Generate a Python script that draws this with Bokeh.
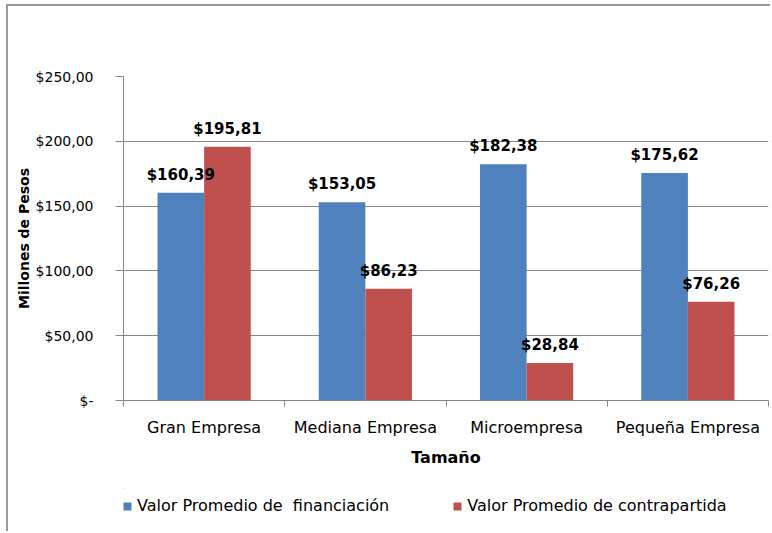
from bokeh.plotting import figure
from bokeh.layouts import column
from bokeh.core.properties import value
from bokeh.models import (ColumnDataSource, Range1d, LinearAxis, BoxAnnotation,
                          FixedTicker, CustomJSTickFormatter, LabelSet, Legend, LegendItem)
from bokeh.transform import dodge
from bokeh.embed import file_html
from bokeh.resources import INLINE

categories = ["Gran Empresa", "Mediana Empresa", "Microempresa", "Pequeña Empresa"]
financiacion = [160.39, 153.05, 182.38, 175.62]
contrapartida = [195.81, 86.23, 28.84, 76.26]
y_ticks = [0, 50, 100, 150, 200, 250]
series_names = ["Valor Promedio de  financiación", "Valor Promedio de contrapartida"]
x_title = "Tamaño"
y_title = "Millones de Pesos"

BLUE = "#4F81BD"
RED = "#C0504D"
GREY = "#868686"
FONT = "DejaVu Sans"


def fmt(v):
    return "$" + f"{v:.2f}".replace(".", ",")


n = len(categories)
centers = [i + 0.5 for i in range(n)]

src = ColumnDataSource(dict(
    x=centers, fin=financiacion, con=contrapartida,
    fin_lbl=[fmt(v) for v in financiacion], con_lbl=[fmt(v) for v in contrapartida],
))

W = 764
LEG_H = 45
p = figure(x_range=Range1d(0, n), y_range=Range1d(0, max(y_ticks)),
           width=W, height=527 - LEG_H, output_backend="svg", toolbar_location=None,
           x_axis_location=None,
           min_border_left=115, min_border_right=4, min_border_top=70, min_border_bottom=88)
p.outline_line_color = None
p.background_fill_color = "white"
p.border_fill_color = "white"
p.xgrid.grid_line_color = None
p.ygrid.grid_line_color = GREY
p.ygrid.ticker = FixedTicker(ticks=y_ticks)

bw = 0.289
r1 = p.vbar(x=dodge("x", -bw / 2), top="fin", width=bw, source=src,
            fill_color=BLUE, line_color=None)
r2 = p.vbar(x=dodge("x", bw / 2), top="con", width=bw, source=src,
            fill_color=RED, line_color=None)

for col, off in (("fin", -bw / 2), ("con", bw / 2)):
    p.add_layout(LabelSet(x=dodge("x", off), y=col, text=col + "_lbl",
                          source=src, y_offset=13, text_align="center",
                          text_baseline="alphabetic", text_font=value(FONT),
                          text_font_size=value("15px"), text_font_style="bold",
                          text_color="black"))

# y axis
ya = p.yaxis[0]
ya.ticker = FixedTicker(ticks=y_ticks)
ya.formatter = CustomJSTickFormatter(
    code="return tick == 0 ? '$-' : '$' + tick.toFixed(2).replace('.', ',');")
ya.axis_line_color = GREY
ya.major_tick_line_color = GREY
ya.major_tick_out = 8
ya.major_tick_in = 0
ya.minor_tick_line_color = None
ya.major_label_standoff = 22
ya.major_label_text_font = FONT
ya.major_label_text_font_size = "14px"
ya.major_label_text_color = "black"
ya.axis_label = y_title
ya.axis_label_text_font = FONT
ya.axis_label_text_font_size = "14px"
ya.axis_label_text_font_style = "bold"
ya.axis_label_text_color = "black"
ya.axis_label_standoff = 1

# x axis: boundary ticks
ax1 = LinearAxis(ticker=FixedTicker(ticks=list(range(n + 1))),
                 axis_line_color=GREY, major_tick_line_color=GREY,
                 major_tick_out=6, major_tick_in=0, minor_tick_line_color=None,
                 major_label_text_font_size="1px", major_label_text_alpha=0,
                 major_label_standoff=0)
p.add_layout(ax1, "below")

# x axis: category labels
ax2 = LinearAxis(ticker=FixedTicker(ticks=centers),
                 major_label_overrides={c: lab for c, lab in zip(centers, categories)},
                 axis_line_color=None, major_tick_line_color=None,
                 major_tick_out=0, major_tick_in=0, minor_tick_line_color=None,
                 major_label_text_font=FONT, major_label_text_font_size="16px",
                 major_label_text_color="black", major_label_standoff=11,
                 axis_label=x_title, axis_label_text_font=FONT,
                 axis_label_text_font_size="16px", axis_label_text_font_style="bold",
                 axis_label_text_color="black", axis_label_standoff=8)
p.add_layout(ax2, "below")

# legend strip below the chart (its renderers sit outside its visible ranges)
q = figure(x_range=Range1d(n, 2 * n), y_range=Range1d(-1, 0), width=W, height=LEG_H,
           output_backend="svg", toolbar_location=None,
           x_axis_location=None, y_axis_location=None,
           min_border_left=0, min_border_right=0, min_border_top=0, min_border_bottom=0)
q.grid.visible = False
q.outline_line_color = None
q.border_fill_color = "white"
q.background_fill_color = "white"
e1 = q.vbar(x="x", top="fin", bottom="fin", width=bw, source=src,
            fill_color=BLUE, line_color=None)
e2 = q.vbar(x="x", top="con", bottom="con", width=bw, source=src,
            fill_color=RED, line_color=None)
q.add_layout(BoxAnnotation(fill_color="white", fill_alpha=1.0, line_color=None))
legend = Legend(items=[LegendItem(label=series_names[0], renderers=[e1]),
                       LegendItem(label=series_names[1], renderers=[e2])],
                orientation="horizontal", location=(-1, 18),
                glyph_width=10, glyph_height=10, label_standoff=5, spacing=63,
                padding=0, margin=0, border_line_color=None, background_fill_alpha=0,
                label_text_font=FONT, label_text_font_size="16px", label_text_color="black")
q.add_layout(legend, "center")

layout = column(p, q, spacing=0)
layout.styles = {"position": "relative", "left": "8px", "top": "6px",
                 "box-shadow": "-2px -2px 0 0 #9a9a9a"}

open("out.html", "w").write(file_html(layout, INLINE))
